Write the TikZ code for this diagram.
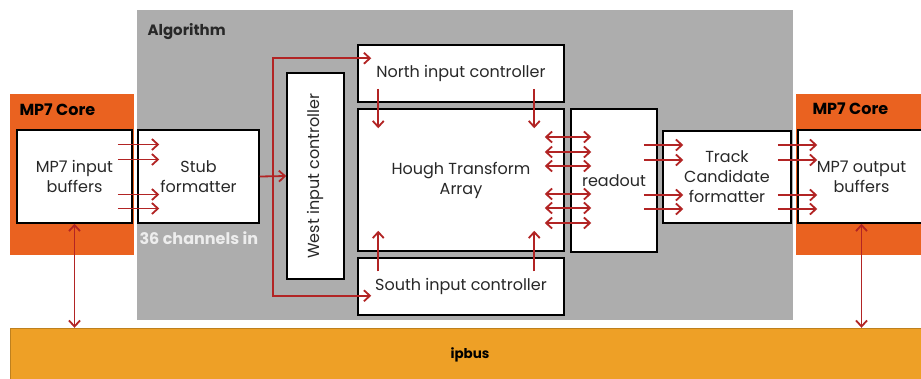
\documentclass[tikz,border=0pt]{standalone}
\usepackage{fontspec}
\setmainfont{Poppins}
\usetikzlibrary{calc,arrows.meta}

\definecolor{algogray}{RGB}{173,173,173}
\definecolor{coreorange}{RGB}{234,98,32}
\definecolor{busorange}{RGB}{238,160,38}
\definecolor{sigred}{RGB}{178,36,36}
\definecolor{boxtext}{RGB}{40,40,40}

\tikzset{
  area/.style={draw=none, inner sep=0pt},
  blk/.style={draw=black, line width=1.5pt, fill=white, inner sep=0pt, align=center,
    text=boxtext, font=\fontsize{16}{20}\selectfont},
  tag/.style={font=\bfseries\fontsize{16}{18}\selectfont, text=black, anchor=west},
  sig/.style={->, draw=sigred, line width=1.8pt},
  dsig/.style={<->, draw=sigred, line width=1.8pt},
}

\begin{document}
\begin{tikzpicture}[x=1pt, y=-1pt, >={Straight Barb[length=6pt,width=11pt]}]
    \useasboundingbox (0,0) rectangle (921,378);

    % areas
    \node[area, fill=algogray, minimum width=656, minimum height=310] (algo) at (465,165) {};
    \node[area, fill=coreorange, minimum width=124, minimum height=161] (coreL) at (72,174.5) {};
    \node[area, fill=coreorange, minimum width=134, minimum height=161] (coreR) at (863,174.5) {};
    \node[area, fill=busorange, draw=busorange!80!black, minimum width=920, minimum height=54,
          font=\bfseries\fontsize{13.5}{15}\selectfont] (ipbus) at (470,355) {ipbus};

    \node[tag, text=boxtext, font=\bfseries\fontsize{15}{17}\selectfont] (algolbl) at (144,32) {Algorithm};
    \node[tag] (coreLlbl) at (16,110) {MP7 Core};
    \node[tag] (coreRlbl) at (809,109) {MP7 Core};

    % blocks
    \node[blk, minimum width=115, minimum height=93] (inbuf) at (74.5,176.5) {MP7 input\\buffers};
    \node[blk, minimum width=121, minimum height=93] (stub) at (198.5,176.5) {Stub\\formatter};
    \node[tag, text=white!93!black] (chan) at (136,238) {36 channels in};
    \node[blk, minimum width=57, minimum height=206] (west) at (315.5,176) {};
    \node[rotate=90, text=boxtext, font=\fontsize{16}{20}\selectfont] (westlbl) at (west.center) {West input controller};
    \node[blk, minimum width=206, minimum height=57] (north) at (461,73.5) {North input controller};
    \node[blk, minimum width=206, minimum height=142] (hta) at (461,180) {Hough Transform\\Array};
    \node[blk, minimum width=206, minimum height=57] (south) at (461,286.5) {South input controller};
    \node[blk, minimum width=86, minimum height=143] (readout) at (614,180.5) {readout};
    \node[blk, minimum width=128, minimum height=92] (tcf) at (727,177) {Track\\Candidate\\formatter};
    \node[blk, minimum width=127, minimum height=93] (outbuf) at (861.5,176.5) {MP7 output\\buffers};

    % links
    \foreach \dy in {-32,-17,18,32} {
        \draw[sig] ($(inbuf.east)+(-15,\dy)$) -- ($(stub.west)+(22,\dy)$);
        \draw[sig] ($(readout.east |- tcf.west)+(-14,\dy)$) -- ($(tcf.west)+(21,\dy)$);
        \draw[sig] ($(tcf.east)+(-14,\dy)$) -- ($(outbuf.west |- tcf.east)+(20,\dy)$);
    }
    \foreach \dy in {-43,-28,-14,14,28,43}
        \draw[dsig] ($(hta.east)+(-20,\dy)$) -- ($(readout.west |- hta.east)+(21,\dy)$);

    \coordinate (split) at ($(stub.east)!0.5!(west.west)$);
    \draw[sig] (stub.east) -- (west.west);
    \draw[sig] (split) |- ($(north.north west)+(14,14)$);
    \draw[sig] (split) |- ($(south.south west)+(14,-20)$);

    \foreach \dx in {21,177} {
        \draw[sig] ($(north.south west)+(\dx,-14)$) -- ($(hta.north west)+(\dx,20)$);
        \draw[sig] ($(south.north west)+(\dx,14)$) -- ($(hta.south west)+(\dx,-21)$);
    }

    \draw[dsig] (inbuf.south) -- (inbuf.south |- ipbus.north);
    \draw[dsig] (outbuf.south) -- (outbuf.south |- ipbus.north);
\end{tikzpicture}
\end{document}
